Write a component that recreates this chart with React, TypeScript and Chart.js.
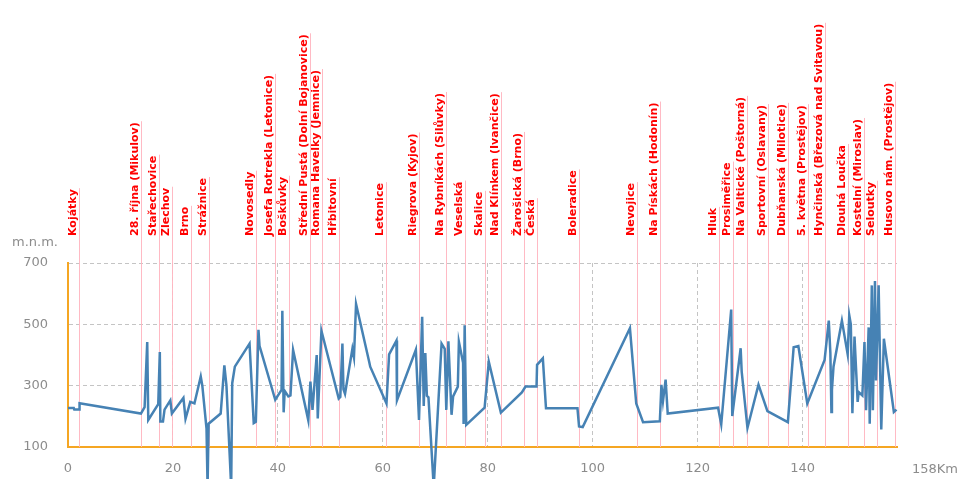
import React, { useEffect, useRef } from "react";
import { Chart, registerables } from "chart.js";

Chart.register(...registerables);

const kmValues = [
  0, 1.1, 1.2, 2.1, 2.2, 13.9, 14.6, 15.1, 15.3, 17.2, 17.5, 17.6, 18.1, 18.4, 19.5, 19.8,
  22.0, 22.4, 23.3, 24.1, 25.3, 25.6, 26.4, 26.6, 26.8, 29.1, 29.8, 30.2, 31.1, 31.3, 31.8,
  34.6, 35.4, 35.8, 36.3, 36.5, 39.5, 40.7, 40.85, 41.1, 41.3, 42.0, 42.4, 42.9, 45.8, 46.2,
  46.6, 47.4, 47.6, 48.3, 51.6, 51.9, 52.3, 52.5, 52.8, 54.2, 54.5, 54.9, 57.4, 57.6, 60.7,
  61.2, 62.6, 62.7, 66.3, 66.9, 67.5, 67.8, 68.1, 68.4, 68.7, 69.7, 71.2, 71.8, 72.1, 72.5,
  73.1, 73.4, 74.3, 74.5, 75.3, 75.4, 75.6, 75.9, 79.4, 80.2, 82.5, 86.5, 87.2, 89.3, 89.4,
  90.5, 91.1, 97.1, 97.4, 98.1, 107.1, 108.3, 109.6, 112.8, 113.1, 113.4, 113.9, 114.3,
  123.9, 124.5, 126.4, 126.6, 128.2, 128.4, 129.5, 131.6, 133.3, 137.2, 138.3, 139.2, 140.9,
  144.2, 145.0, 145.3, 145.5, 145.6, 145.9, 147.5, 148.6, 148.9, 149.2, 149.5, 149.9, 150.5,
  150.7, 151.4, 151.8, 152.1, 152.6, 152.8, 153.2, 153.4, 153.8, 154.0, 154.5, 155.0, 155.5,
  157.4, 157.9,
];

const elevValues = [
  227, 227, 222, 222, 243, 209, 230, 442, 188, 240, 410, 183, 183, 222, 252, 209,
  260, 192, 247, 242, 330, 300, 160, -30, 176, 209, 366, 300, -30, 308, 362,
  437, 178, 182, 482, 430, 254, 286, 544, 213, 283, 265, 268, 416, 187, 313,
  221, 400, 193, 479, 258, 263, 437, 288, 273, 420, 392, 566, 378, 362, 242,
  402, 447, 252, 417, 188, 525, 234, 406, 267, 262, -30, 437, 420, 221, 445,
  205, 265, 297, 443, 375, 175, 497, 172, 228, 378, 212, 278, 297, 297, 368,
  389, 226, 226, 167, 165, 487, 242, 181, 184, 303, 250, 320, 209,
  228, 174, 548, 201, 422, 346, 162, 303, 217, 181, 425, 429, 242,
  384, 512, 407, 214, 286, 362, 512, 402, 530, 500, 210, 460, 247,
  279, 268, 442, 220, 490, 176, 627, 220, 641, 317, 627, 157, 453,
  214, 222,
];

const stopNames = [
  "Kojátky", "28. října (Mikulov)", "Stařechovice", "Zlechov", "Brno", "Strážnice",
  "Novosedly", "Josefa Rotrekla (Letonice)", "Boškůvky", "Střední Pustá (Dolní Bojanovice)",
  "Romana Havelky (Jemnice)", "Hřbitovní", "Letonice", "Riegrova (Kyjov)",
  "Na Rybníkách (Silůvky)", "Veselská", "Skalice", "Nad Klínkem (Ivančice)",
  "Žarošická (Brno)", "Česká", "Boleradice", "Nevojice", "Na Pískách (Hodonín)", "Hluk",
  "Prosiměřice", "Na Valtické (Poštorná)", "Sportovní (Oslavany)", "Dubňanská (Milotice)",
  "5. května (Prostějov)", "Hynčinská (Březová nad Svitavou)", "Dlouhá Loučka",
  "Kostelní (Miroslav)", "Seloutky", "Husovo nám. (Prostějov)",
];

const stopKm = [
  2.1, 14.0, 17.4, 19.9, 23.4, 26.9, 35.8, 39.5, 42.1, 46.1, 48.4, 51.7, 60.7, 66.9, 72.1,
  75.6, 79.4, 82.5, 86.9, 89.3, 97.3, 108.4, 112.9, 124.0, 126.7, 129.5, 133.4, 137.3, 141.0,
  144.3, 148.6, 151.7, 154.2, 157.7,
];

const xTickValues = [0, 20, 40, 60, 80, 100, 120, 140];
const yTickValues = [100, 300, 500, 700];
const xEndLabel = "158Km";
const yTitle = "m.n.m.";

const FONT = '"DejaVu Sans", Verdana, sans-serif';
const TICK_COLOR = "#8c8c8c";
const AXIS_COLOR = "#f5a623";
const GRID_COLOR = "#c4c4c4";

const stopsPlugin = {
  id: "stops",
  beforeDatasetsDraw(chart: any) {
    const { ctx, scales, chartArea } = chart;
    const x = scales.x;
    const labelBottom = chartArea.top - 27;
    ctx.save();
    ctx.font = "bold 11px " + FONT;
    stopNames.forEach((name, i) => {
      const px = Math.round(x.getPixelForValue(stopKm[i])) + 0.5;
      const w = ctx.measureText(name).width;
      ctx.strokeStyle = "rgba(255,182,193,0.95)";
      ctx.lineWidth = 1;
      ctx.beginPath();
      ctx.moveTo(px, chartArea.bottom);
      ctx.lineTo(px, labelBottom - w - 1);
      ctx.stroke();
      ctx.save();
      ctx.translate(px - 3.5, labelBottom);
      ctx.rotate(-Math.PI / 2);
      ctx.fillStyle = "#ff0000";
      ctx.textAlign = "left";
      ctx.textBaseline = "alphabetic";
      ctx.fillText(name, 0, 0);
      ctx.restore();
    });
    ctx.restore();
  },
  afterDraw(chart: any) {
    const { ctx, scales, chartArea } = chart;
    ctx.save();
    ctx.font = "13px " + FONT;
    ctx.fillStyle = TICK_COLOR;
    ctx.textBaseline = "middle";
    ctx.textAlign = "right";
    ctx.fillText(yTitle, chartArea.left - 10, chartArea.top - 20);
    ctx.textAlign = "left";
    ctx.fillText(xEndLabel, scales.x.getPixelForValue(158) + 15, chartArea.bottom + 23);
    ctx.restore();
  },
};

export default function App() {
  const canvasRef = useRef<HTMLCanvasElement | null>(null);

  useEffect(() => {
    if (!canvasRef.current) return;
    const points = kmValues.map((k, i) => ({ x: k, y: elevValues[i] }));
    const chart = new Chart(canvasRef.current, {
      type: "line",
      data: {
        datasets: [
          {
            data: points,
            borderColor: "#4682b4",
            borderWidth: 2.5,
            pointRadius: 0,
            tension: 0,
            fill: false,
            clip: false as any,
          },
        ],
      },
      options: {
        animation: false,
        responsive: false,
        maintainAspectRatio: false,
        layout: { padding: { left: 8, right: 66, top: 263, bottom: 0 } },
        plugins: {
          legend: { display: false },
          tooltip: { enabled: false },
          title: { display: false },
        },
        scales: {
          x: {
            type: "linear",
            min: 0,
            max: 158,
            afterBuildTicks: (scale: any) => {
              scale.ticks = xTickValues.map((v) => ({ value: v }));
            },
            afterFit: (scale: any) => {
              scale.height = 32;
            },
            ticks: {
              color: TICK_COLOR,
              font: { family: FONT, size: 13 },
              padding: 14,
              maxRotation: 0,
              autoSkip: false,
            },
            grid: {
              drawTicks: false,
              color: (c: any) => (c.tick && c.tick.value === 0 ? "rgba(0,0,0,0)" : GRID_COLOR),
              lineWidth: 1,
            },
            border: { display: true, color: AXIS_COLOR, width: 2, dash: [4, 3] },
          },
          y: {
            type: "linear",
            min: 100,
            max: 700,
            afterBuildTicks: (scale: any) => {
              scale.ticks = yTickValues.map((v) => ({ value: v }));
            },
            afterFit: (scale: any) => {
              scale.width = 60;
            },
            ticks: {
              color: TICK_COLOR,
              font: { family: FONT, size: 13 },
              padding: 20,
              autoSkip: false,
            },
            grid: {
              drawTicks: false,
              color: (c: any) => (c.tick && c.tick.value === 100 ? "rgba(0,0,0,0)" : GRID_COLOR),
              lineWidth: 1,
            },
            border: { display: true, color: AXIS_COLOR, width: 2, dash: [4, 3] },
          },
        },
      },
      plugins: [stopsPlugin],
    });
    return () => chart.destroy();
  }, []);

  return (
    <div style={{ position: "fixed", left: 0, top: 0, width: 963, height: 479, background: "#fff" }}>
      <canvas ref={canvasRef} width={963} height={479} style={{ display: "block" }} />
    </div>
  );
}
